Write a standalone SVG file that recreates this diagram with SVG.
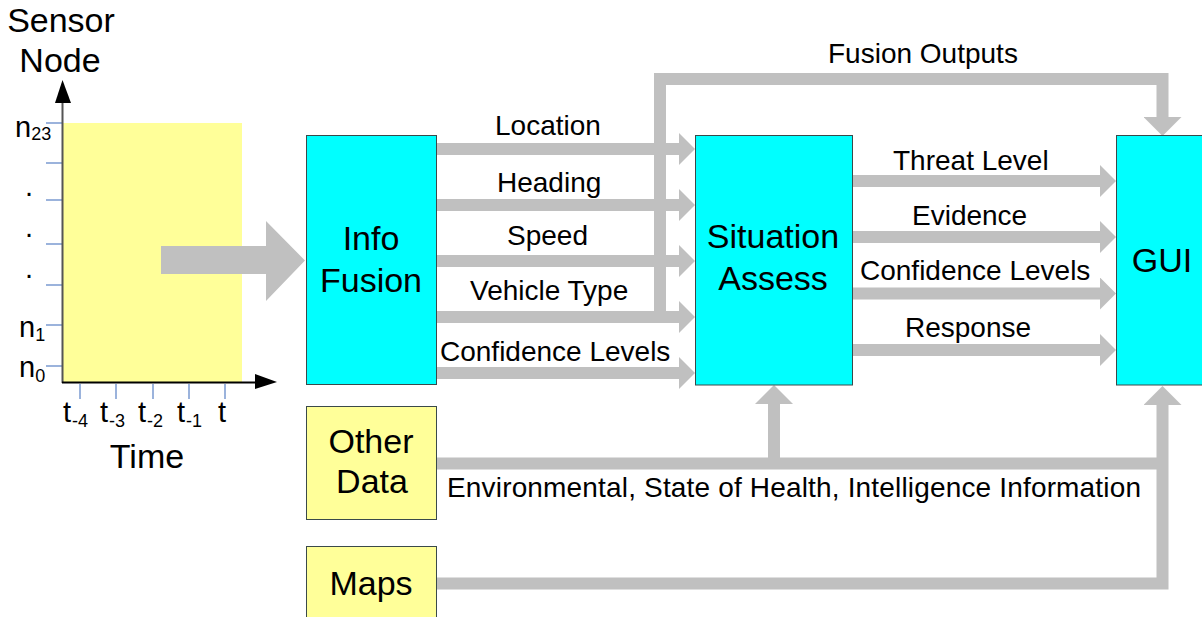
<svg xmlns="http://www.w3.org/2000/svg" width="1202" height="617" viewBox="0 0 1202 617">
  <style>
    text { font-family: "Liberation Sans", Arial, sans-serif; fill: #000; }
    .big { font-size: 34px; }
    .lbl { font-size: 28px; }
    .ax { font-size: 29px; }
    .sub { font-size: 18px; }
    .proc { fill: #00FFFF; stroke: #3a4a4a; stroke-width: 1; }
    .src { fill: #FFFF99; stroke: #3a4a4a; stroke-width: 1; }
    .flow { fill: none; stroke: #C0C0C0; stroke-width: 12; stroke-linejoin: miter; }
    .tick { stroke: #7A9AD0; stroke-width: 1.5; }
    .axis { stroke: #555; stroke-width: 2; fill: none; }
  </style>
  <defs>
    <!-- horizontal flow head: base at ref point, 16 long, 32 wide -->
    <marker id="headH" markerUnits="userSpaceOnUse" markerWidth="16" markerHeight="32" viewBox="0 0 16 32" refX="0" refY="16" orient="auto">
      <path d="M0,0 L16,16 L0,32 Z" fill="#C0C0C0"/>
    </marker>
    <!-- vertical flow head: 19 long, 38 wide -->
    <marker id="headV" markerUnits="userSpaceOnUse" markerWidth="19" markerHeight="38" viewBox="0 0 19 38" refX="0" refY="19" orient="auto">
      <path d="M0,0 L19,19 L0,38 Z" fill="#C0C0C0"/>
    </marker>
  </defs>

  <rect width="1202" height="617" fill="#fff"/>

  <!-- sensor/time chart -->
  <g id="chart">
    <rect x="63" y="123" width="179" height="260" fill="#FFFF99"/>
    <g class="tick">
      <line x1="46" y1="123" x2="62" y2="123"/>
      <line x1="46" y1="163" x2="62" y2="163"/>
      <line x1="46" y1="200" x2="62" y2="200"/>
      <line x1="46" y1="244" x2="62" y2="244"/>
      <line x1="46" y1="285" x2="62" y2="285"/>
      <line x1="46" y1="325" x2="62" y2="325"/>
      <line x1="46" y1="366" x2="62" y2="366"/>
      <line x1="80" y1="384" x2="80" y2="399"/>
      <line x1="116" y1="384" x2="116" y2="399"/>
      <line x1="153" y1="384" x2="153" y2="399"/>
      <line x1="189" y1="384" x2="189" y2="399"/>
      <line x1="225" y1="384" x2="225" y2="399"/>
    </g>
    <line class="axis" x1="62.5" y1="383" x2="62.5" y2="100"/>
    <path d="M55,103 L62.5,80 L71,103 Z" fill="#000"/>
    <line x1="62" y1="382.5" x2="256" y2="382.5" stroke="#000" stroke-width="2"/>
    <path d="M255,374 L277,382 L255,389 Z" fill="#000"/>
    <text class="big" x="61" y="32" text-anchor="middle">Sensor</text>
    <text class="big" x="60" y="72" text-anchor="middle">Node</text>
    <text class="ax" x="15" y="137">n<tspan class="sub" dy="3">23</tspan></text>
    <text class="ax" x="25" y="196">.</text>
    <text class="ax" x="25" y="237">.</text>
    <text class="ax" x="25" y="278">.</text>
    <text class="ax" x="19" y="337">n<tspan class="sub" dy="4">1</tspan></text>
    <text class="ax" x="19" y="377">n<tspan class="sub" dy="5">0</tspan></text>
    <text class="ax" x="63" y="422">t<tspan class="sub" dx="1" dy="5">-4</tspan></text>
    <text class="ax" x="100" y="422">t<tspan class="sub" dx="1" dy="5">-3</tspan></text>
    <text class="ax" x="138" y="422">t<tspan class="sub" dx="1" dy="5">-2</tspan></text>
    <text class="ax" x="177" y="422">t<tspan class="sub" dx="1" dy="5">-1</tspan></text>
    <text class="ax" x="218" y="422">t</text>
    <text class="big" x="147" y="468" text-anchor="middle">Time</text>
    <!-- big block arrow into the fusion stage -->
    <polygon points="161,246 266,246 266,221 305,260.5 266,301 266,274 161,274" fill="#C0C0C0"/>
  </g>

  <!-- connectors -->
  <g id="connectors">
    <path class="flow" d="M660,317 V79 H1162.5 V117" marker-end="url(#headV)"/>
    <path class="flow" d="M437,149 H679" marker-end="url(#headH)"/>
    <path class="flow" d="M437,205 H679" marker-end="url(#headH)"/>
    <path class="flow" d="M437,261 H679" marker-end="url(#headH)"/>
    <path class="flow" d="M437,317 H679" marker-end="url(#headH)"/>
    <path class="flow" d="M437,373 H679" marker-end="url(#headH)"/>
    <path class="flow" d="M853,181 H1100" marker-end="url(#headH)"/>
    <path class="flow" d="M853,237 H1100" marker-end="url(#headH)"/>
    <path class="flow" d="M853,293.5 H1100" marker-end="url(#headH)"/>
    <path class="flow" d="M853,350 H1100" marker-end="url(#headH)"/>
    <path class="flow" d="M436,463.5 H1163"/>
    <path class="flow" d="M774,463.5 V404" marker-end="url(#headV)"/>
    <path class="flow" d="M436,583.5 H1162.5 V405" marker-end="url(#headV)"/>

    <text class="lbl" x="495" y="135">Location</text>
    <text class="lbl" x="497" y="192">Heading</text>
    <text class="lbl" x="507" y="245">Speed</text>
    <text class="lbl" x="470" y="300">Vehicle Type</text>
    <text class="lbl" x="440" y="361">Confidence Levels</text>
    <text class="lbl" x="828" y="63">Fusion Outputs</text>
    <text class="lbl" x="893" y="170">Threat Level</text>
    <text class="lbl" x="912" y="225">Evidence</text>
    <text class="lbl" x="860" y="280">Confidence Levels</text>
    <text class="lbl" x="905" y="337">Response</text>
    <text class="lbl" x="447" y="497" textLength="694" lengthAdjust="spacing">Environmental, State of Health, Intelligence Information</text>
  </g>

  <g id="info-fusion">
    <rect class="proc" x="306.5" y="135.5" width="130" height="249"/>
    <text class="big" x="371" y="250" text-anchor="middle">Info</text>
    <text class="big" x="371" y="292" text-anchor="middle">Fusion</text>
  </g>

  <g id="situation-assess">
    <rect class="proc" x="695.5" y="135.5" width="157" height="249.5"/>
    <text class="big" x="773" y="248" text-anchor="middle">Situation</text>
    <text class="big" x="773" y="290" text-anchor="middle">Assess</text>
  </g>

  <g id="gui">
    <rect class="proc" x="1116.5" y="135.5" width="90" height="249.5"/>
    <text class="big" x="1162" y="272" text-anchor="middle">GUI</text>
  </g>

  <g id="other-data">
    <rect class="src" x="306.5" y="406.5" width="130" height="113"/>
    <text class="big" x="371" y="453" text-anchor="middle">Other</text>
    <text class="big" x="372" y="493" text-anchor="middle">Data</text>
  </g>

  <g id="maps">
    <rect class="src" x="306.5" y="546.5" width="130" height="80"/>
    <text class="big" x="371" y="595" text-anchor="middle">Maps</text>
  </g>
</svg>
